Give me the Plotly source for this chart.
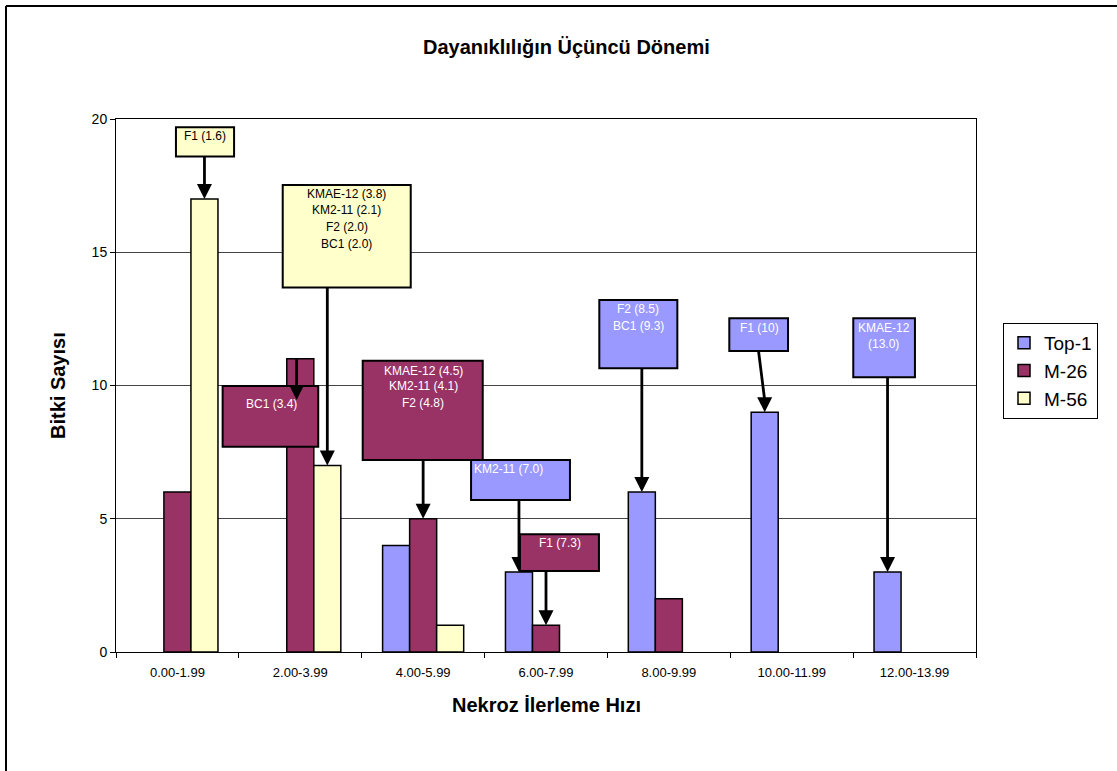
import plotly.graph_objects as go

# --- data -------------------------------------------------------------
categories = ["0.00-1.99", "2.00-3.99", "4.00-5.99", "6.00-7.99",
              "8.00-9.99", "10.00-11.99", "12.00-13.99"]
series_names = ["Top-1", "M-26", "M-56"]
top1 = [0, 0, 4, 3, 6, 9, 3]
m26 = [6, 11, 5, 1, 2, 0, 0]
m56 = [17, 7, 1, 0, 0, 0, 0]

# callout texts (variety and its rate)
callout_f1_m56 = ["F1 (1.6)"]
callout_group_m56 = ["KMAE-12 (3.8)", "KM2-11 (2.1)", "F2 (2.0)", "BC1 (2.0)"]
callout_bc1_m26 = ["BC1 (3.4)"]
callout_group_m26 = ["KMAE-12 (4.5)", "KM2-11 (4.1)", "F2 (4.8)"]
callout_km2_top1 = ["KM2-11 (7.0)"]
callout_f1_m26 = ["F1 (7.3)"]
callout_f2_top1 = ["F2 (8.5)", "BC1 (9.3)"]
callout_f1_top1 = ["F1 (10)"]
callout_kmae_top1 = ["KMAE-12", "(13.0)"]

# --- styling ------------------------------------------------------------
FONT = "Arial, 'Liberation Sans', sans-serif"
colors = {"Top-1": "#9999FF", "M-26": "#993366", "M-56": "#FFFFCC"}
text_colors = {"Top-1": "#FFFFFF", "M-26": "#FFFFFF", "M-56": "#000000"}
values = {"Top-1": top1, "M-26": m26, "M-56": m56}

BARGAP = 0.34
BAR_W = (1 - BARGAP) / 3
offsets = {"Top-1": -BAR_W, "M-26": 0.0, "M-56": BAR_W}

fig = go.Figure()
for name in series_names:
    # empty classes are left blank rather than drawn as flat outlines
    fig.add_trace(go.Bar(
        name=name, x=categories, y=[v if v else None for v in values[name]],
        marker=dict(color=colors[name], line=dict(color="#000000", width=1.5)),
        legendgroup=name,
    ))


def bar_top(cat_index, series):
    return cat_index + offsets[series], values[series][cat_index]


# callout layout: box corners (category-index units / value units),
# text line heights, arrow target bar
callouts = [
    dict(lines=callout_f1_m56, style="M-56", box=(-0.012, 0.461, 18.59, 19.69),
         tx=0.224, ty=[19.35], target=(0, "M-56")),
    dict(lines=callout_group_m56, style="M-56", box=(0.857, 1.899, 13.68, 17.52),
         tx=1.378, ty=[17.19, 16.59, 15.94, 15.31], target=(1, "M-56")),
    dict(lines=callout_bc1_m26, style="M-26", box=(0.368, 1.146, 7.70, 9.98),
         tx=0.762, ty=[9.29], source=(1, "M-26"), tip_y=9.46, tip_dx=-0.03),
    dict(lines=callout_group_m26, style="M-26", box=(1.508, 2.485, 7.20, 10.93),
         tx=2.0, ty=[10.56, 9.98, 9.35], target=(2, "M-26")),
    dict(lines=callout_km2_top1, style="Top-1", box=(2.390, 3.195, 5.70, 7.20),
         tx=2.696, ty=[6.86], target=(3, "Top-1")),
    dict(lines=callout_f1_m26, style="M-26", box=(2.788, 3.431, 3.04, 4.42),
         tx=3.114, ty=[4.08], target=(3, "M-26")),
    dict(lines=callout_f2_top1, style="Top-1", box=(3.434, 4.069, 10.65, 13.21),
         tx=3.751, ty=[12.86, 12.23], target=(4, "Top-1")),
    dict(lines=callout_f1_top1, style="Top-1", box=(4.492, 4.970, 11.29, 12.52),
         tx=4.734, ty=[12.15], target=(5, "Top-1"), tail_dx=-0.05),
    dict(lines=callout_kmae_top1, style="Top-1", box=(5.501, 6.003, 10.31, 12.52),
         tx=5.751, ty=[12.17, 11.56], target=(6, "Top-1")),
]

HEAD_HW = 7.5 / 122.86   # arrow head half width (index units)
HEAD_L = 15.0 / 26.65    # arrow head length (value units)

shapes = []
annotations = []


def add_arrow(x_tail, y_tail, x_tip, y_tip):
    shapes.append(dict(type="line", xref="x", yref="y", layer="above",
                       x0=x_tail, y0=y_tail, x1=x_tip, y1=y_tip + HEAD_L * 0.8,
                       line=dict(color="#000000", width=2.8)))
    path = (f"M {x_tip - HEAD_HW},{y_tip + HEAD_L} L {x_tip + HEAD_HW},{y_tip + HEAD_L} "
            f"L {x_tip},{y_tip} Z")
    shapes.append(dict(type="path", xref="x", yref="y", layer="above", path=path,
                       fillcolor="#000000", line=dict(width=0)))


for c in callouts:
    x0, x1, y0, y1 = c["box"]
    shapes.append(dict(type="rect", xref="x", yref="y", layer="above",
                       x0=x0, x1=x1, y0=y0, y1=y1,
                       fillcolor=colors[c["style"]],
                       line=dict(color="#000000", width=2)))
    if "target" in c:
        tx, ty = bar_top(*c["target"])
        add_arrow(tx + c.get("tail_dx", 0.0), y0, tx, ty)
    else:
        sx, sy = bar_top(*c["source"])
        add_arrow(sx + c["tip_dx"], sy, sx + c["tip_dx"], c["tip_y"])
    for line, ly in zip(c["lines"], c["ty"]):
        annotations.append(dict(xref="x", yref="y", x=c["tx"], y=ly, text=line,
                                showarrow=False, xanchor="center", yanchor="middle",
                                font=dict(family=FONT, size=12,
                                          color=text_colors[c["style"]])))

# chart area frame (left and top edges fall inside the page)
frame_left = (6 - 116) / 860
frame_top = (652 - 6) / 533
shapes.append(dict(type="line", xref="paper", yref="paper", layer="below",
                   x0=frame_left, x1=frame_left, y0=(652 - 900) / 533, y1=frame_top,
                   line=dict(color="#000000", width=2)))
shapes.append(dict(type="line", xref="paper", yref="paper", layer="below",
                   x0=frame_left, x1=(1300 - 116) / 860, y0=frame_top, y1=frame_top,
                   line=dict(color="#000000", width=2)))

# titles
annotations.append(dict(xref="paper", yref="paper", x=(566 - 116) / 860,
                        y=(652 - 47) / 533, text="<b>Dayanıklılığın Üçüncü Dönemi</b>",
                        showarrow=False, xanchor="center", yanchor="middle",
                        font=dict(family=FONT, size=20, color="#000000")))
annotations.append(dict(xref="paper", yref="paper", x=(546 - 116) / 860,
                        y=(652 - 705) / 533, text="<b>Nekroz İlerleme Hızı</b>",
                        showarrow=False, xanchor="center", yanchor="middle",
                        font=dict(family=FONT, size=20, color="#000000")))
annotations.append(dict(xref="paper", yref="paper", x=(58 - 116) / 860,
                        y=(652 - 385) / 533, text="<b>Bitki Sayısı</b>", textangle=-90,
                        showarrow=False, xanchor="center", yanchor="middle",
                        font=dict(family=FONT, size=20, color="#000000")))

fig.update_layout(
    width=1117, height=771,
    margin=dict(l=116, r=141, t=119, b=119),
    paper_bgcolor="#FFFFFF", plot_bgcolor="#FFFFFF",
    barmode="group", bargap=BARGAP, bargroupgap=0,
    font=dict(family=FONT, color="#000000"),
    showlegend=True,
    legend=dict(x=(1003 - 116) / 860, y=(652 - 323) / 533,
                xanchor="left", yanchor="top",
                bgcolor="#FFFFFF", bordercolor="#000000", borderwidth=1,
                font=dict(family=FONT, size=19, color="#000000"),
                itemwidth=30, tracegroupgap=6, traceorder="normal"),
    shapes=shapes, annotations=annotations,
)
fig.update_xaxes(type="category", tickson="boundaries", ticks="outside", ticklen=5,
                 tickcolor="#000000", showline=True, linecolor="#000000", linewidth=1,
                 mirror=True, showgrid=False, ticklabelstandoff=8,
                 tickfont=dict(family=FONT, size=13, color="#000000"))
fig.update_yaxes(range=[0, 20], dtick=5, ticks="outside", ticklen=5,
                 tickcolor="#000000", showline=True, linecolor="#000000", linewidth=1,
                 mirror=True, showgrid=True, gridcolor="#444444", gridwidth=1,
                 zeroline=False,
                 tickfont=dict(family=FONT, size=14, color="#000000"))

fig.write_html("out.html")
